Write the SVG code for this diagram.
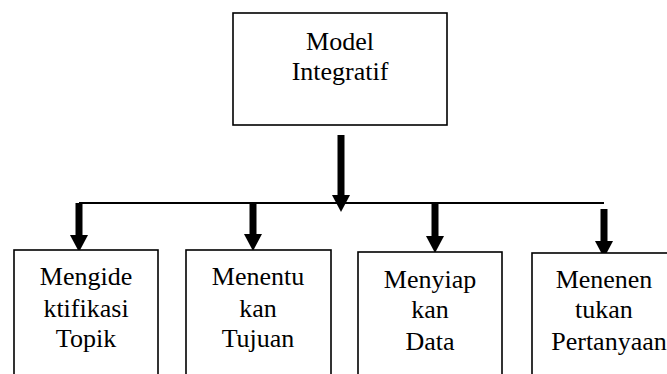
<svg xmlns="http://www.w3.org/2000/svg" width="667" height="374" viewBox="0 0 667 374">
<style>
.box{fill:#fff;stroke:#000;stroke-width:1.6}
.t{font-family:'Liberation Serif','DejaVu Serif',serif;font-size:26px;fill:#000;text-anchor:middle}
.arr{stroke:#000;stroke-width:7;fill:none;marker-end:url(#head)}
.hl{stroke:#000;stroke-width:2;fill:none}
</style>
<defs>
<marker id="head" markerUnits="userSpaceOnUse" viewBox="0 0 17 18" refX="1" refY="9" markerWidth="17" markerHeight="18" orient="auto">
<path d="M0,0 L17,9 L0,18 z" fill="#000"/>
</marker>
</defs>
<rect width="667" height="374" fill="#fff"/>
<g id="connectors">
<line class="hl" x1="79" y1="203" x2="604" y2="203"/>
<line class="arr" x1="341" y1="135" x2="341" y2="196"/>
<line class="arr" x1="79" y1="203" x2="79" y2="236"/>
<line class="arr" x1="253" y1="203" x2="253" y2="235"/>
<line class="arr" x1="435" y1="204" x2="435" y2="237"/>
<line class="arr" x1="604" y1="209" x2="604" y2="242"/>
</g>
<g id="model">
<rect class="box" x="233" y="13" width="214" height="112"/>
<text class="t" font-family="Liberation Serif, serif" x="340" y="50">Model</text>
<text class="t" font-family="Liberation Serif, serif" x="340" y="80">Integratif</text>
</g>
<g id="topik">
<rect class="box" x="14" y="250" width="144" height="140"/>
<text class="t" x="86" y="285">Mengide</text>
<text class="t" x="86" y="317">ktifikasi</text>
<text class="t" x="86" y="347">Topik</text>
</g>
<g id="tujuan">
<rect class="box" x="186" y="250" width="145" height="140"/>
<text class="t" x="258" y="285">Menentu</text>
<text class="t" x="258" y="317">kan</text>
<text class="t" x="258" y="347">Tujuan</text>
</g>
<g id="data">
<rect class="box" x="358" y="252" width="144" height="140"/>
<text class="t" x="430" y="288">Menyiap</text>
<text class="t" x="430" y="318">kan</text>
<text class="t" x="430" y="350">Data</text>
</g>
<g id="pertanyaan">
<rect class="box" x="532" y="253" width="150" height="140"/>
<text class="t" x="604" y="288">Menenen</text>
<text class="t" x="604" y="318">tukan</text>
<text class="t" x="609" y="350">Pertanyaan</text>
</g>
</svg>
